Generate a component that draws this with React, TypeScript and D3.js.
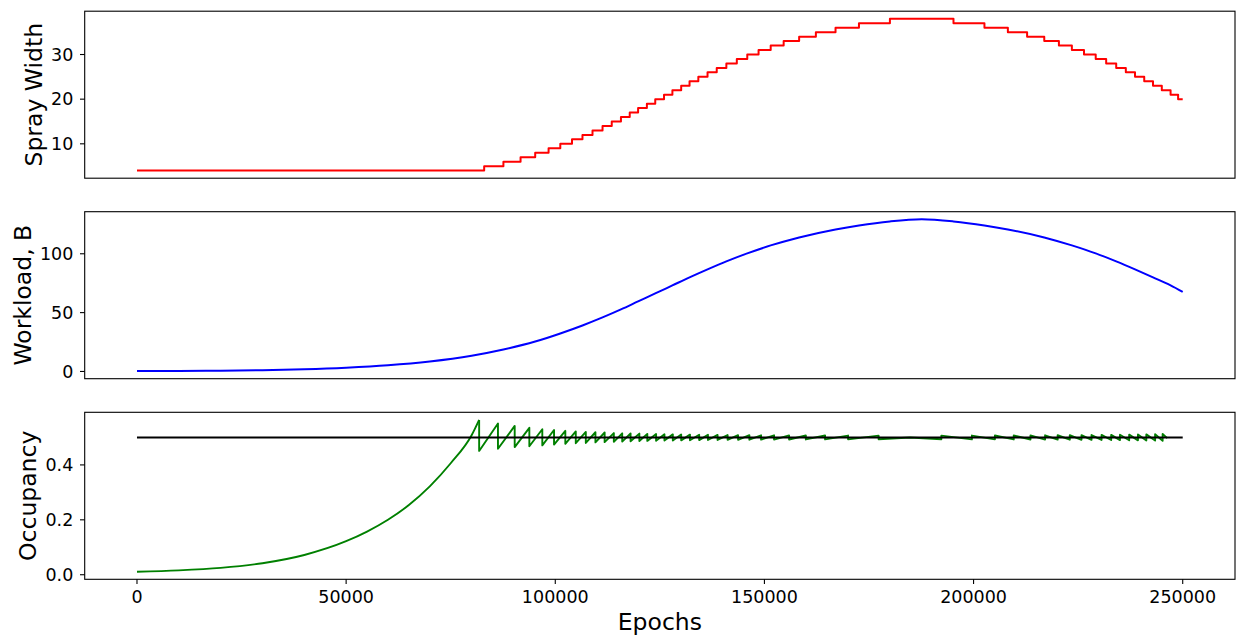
import React from 'react';
import * as d3 from 'd3';

// shared x axis
const epochTicks = [0, 50000, 100000, 150000, 200000, 250000];

// top panel: spray width (step)
const sprayEpochs = [
  0, 83000, 87600, 91700, 95200, 98400, 101200, 104000, 106500, 108900, 111300,
  113500, 115700, 117800, 119800, 121900, 123900, 126000, 128000, 130100, 132100,
  134200, 136400, 138600, 140900, 143400, 145900, 148600, 151500, 154600, 158300,
  162300, 167000, 172600, 180000,
  195200, 202600, 208200, 212800, 216900, 220400, 223500, 226400, 229200, 231700,
  234100, 236400, 238600, 240800, 242900, 245000, 247100, 248900, 250000,
];
const sprayValues = [
  4, 5, 6, 7, 8, 9, 10, 11, 12, 13, 14,
  15, 16, 17, 18, 19, 20, 21, 22, 23, 24,
  25, 26, 27, 28, 29, 30, 31, 32, 33, 34,
  35, 36, 37, 38,
  37, 36, 35, 34, 33, 32, 31, 30, 29, 28,
  27, 26, 25, 24, 23, 22, 21, 20, 20,
];
const sprayTicks = [10, 20, 30];

// middle panel: workload
const workloadEpochs = [
  0, 10000, 20000, 30000, 40000, 50000, 60000, 70000, 80000, 87600, 95200,
  101200, 106500, 111300, 115700, 119800, 123900, 128000, 132100, 136400, 140900,
  145900, 151500, 158300, 167000, 172600, 180000, 187600, 195200, 202600, 208200,
  216900, 223500, 229200, 234100, 238600, 242900, 247100, 250000,
];
const workloadValues = [
  0.3, 0.43, 0.67, 1.12, 1.9, 3.2, 5.2, 8.4, 13.3, 18.6, 25.4,
  32.3, 39.1, 45.9, 52.7, 59.5, 66.3, 73.1, 79.9, 86.7, 93.5,
  100.3, 107.1, 113.9, 120.7, 124.1, 127.5, 129.3, 127.5, 124.1, 120.7,
  113.9, 107.1, 100.3, 93.5, 86.7, 79.9, 73.1, 67.6,
];
const workloadTicks = [0, 50, 100];

// bottom panel: occupancy, smooth rise before the first width step
const occRiseEpochs = [0, 10000, 20000, 30000, 40000, 50000, 55000, 60000, 65000, 70000, 75000, 80000, 81800];
const occRiseValues = [0.011, 0.016, 0.025, 0.042, 0.072, 0.122, 0.157, 0.2, 0.254, 0.322, 0.406, 0.508, 0.564];

// occupancy sawtooth after steps start
const occSawEpochs = [
  81800, 81800, 86300, 86300, 90300, 90300, 93800, 93800, 96900, 96900,
  99700, 99700, 102400, 102400, 104900, 104900, 107300, 107300, 109600, 109600,
  111800, 111800, 114000, 114000, 116000, 116000, 118000, 118000, 120100, 120100,
  122000, 122000, 124100, 124100, 126100, 126100, 128100, 128100, 130100, 130100,
  132200, 132200, 134400, 134400, 136500, 136500, 138800, 138800, 141200, 141200,
  143700, 143700, 146400, 146400, 149200, 149200, 152300, 152300, 155900, 155900,
  159900, 159900, 164500, 164500, 170000, 170000, 177300, 177300, 184800,
  192300, 192300, 199600, 199600, 205100, 205100, 209600, 209600, 213600, 213600,
  217100, 217100, 220100, 220100, 223000, 223000, 225800, 225800, 228200, 228200,
  230600, 230600, 232900, 232900, 235000, 235000, 237200, 237200, 239300, 239300,
  241300, 241300, 243400, 243400, 245200, 245200, 246300,
];
const occSawValues = [
  0.564, 0.451, 0.551, 0.459, 0.542, 0.465, 0.535, 0.468, 0.53, 0.471,
  0.527, 0.474, 0.524, 0.477, 0.522, 0.479, 0.52, 0.48, 0.519, 0.482,
  0.518, 0.483, 0.516, 0.484, 0.515, 0.485, 0.5145, 0.486, 0.514, 0.487,
  0.513, 0.4875, 0.5124, 0.488, 0.5118, 0.4886, 0.5112, 0.4891, 0.5107, 0.4895,
  0.5103, 0.4899, 0.5099, 0.4903, 0.5095, 0.4907, 0.5092, 0.491, 0.5088, 0.4913,
  0.5085, 0.4916, 0.5083, 0.4919, 0.508, 0.4921, 0.5078, 0.4924, 0.5075, 0.4926,
  0.5073, 0.4928, 0.5071, 0.493, 0.5069, 0.4932, 0.5067, 0.4934, 0.5,
  0.4934, 0.5067, 0.4932, 0.5069, 0.493, 0.5071, 0.4928, 0.5073, 0.4926, 0.5075,
  0.4924, 0.5078, 0.4921, 0.508, 0.4919, 0.5083, 0.4916, 0.5085, 0.4913, 0.5088,
  0.491, 0.5092, 0.4907, 0.5095, 0.4903, 0.5099, 0.4899, 0.5103, 0.4895, 0.5107,
  0.4891, 0.5112, 0.4886, 0.5118, 0.488, 0.5124, 0.4975,
];
const targetEpochs = [0, 250000];
const targetValues = [0.5, 0.5];
const occTicks = [0, 0.2, 0.4];

const FONT = '"DejaVu Sans", sans-serif';
const left = 84.7;
const right = 1235;
const panelTops = [11.2, 211.7, 412.3];
const panelH = 167;

// matplotlib style 5% margins
function padded(vals: number[]): [number, number] {
  const [a, b] = d3.extent(vals) as [number, number];
  const m = (b - a) * 0.05;
  return [a - m, b + m];
}

const x = d3.scaleLinear().domain(padded([...sprayEpochs, ...workloadEpochs])).range([left, right]);

type Series = { xs: number[]; ys: number[]; color: string; width: number; curve: any };

function Panel(props: {
  idx: number;
  series: Series[];
  ticks: number[];
  fmt: (d: number) => string;
  label: string;
  labelX: number;
  showX?: boolean;
}) {
  const top = panelTops[props.idx];
  const allY = props.series.flatMap((s) => s.ys);
  const y = d3.scaleLinear().domain(padded(allY)).range([top + panelH, top]);
  const clipId = 'clip' + props.idx;
  return (
    <g>
      <defs>
        <clipPath id={clipId}>
          <rect x={left} y={top} width={right - left} height={panelH} />
        </clipPath>
      </defs>
      <g clipPath={`url(#${clipId})`}>
        {props.series.map((s, i) => {
          const line = d3
            .line<number>()
            .x((d, j) => x(s.xs[j]))
            .y((d) => y(d))
            .curve(s.curve);
          return (
            <path
              key={i}
              d={line(s.ys) || ''}
              fill="none"
              stroke={s.color}
              strokeWidth={s.width}
              strokeLinejoin="round"
            />
          );
        })}
      </g>
      <rect x={left} y={top} width={right - left} height={panelH} fill="none" stroke="#000" strokeWidth={1.1} />
      {props.ticks.map((t) => (
        <g key={t}>
          <line x1={left - 4.7} x2={left} y1={y(t)} y2={y(t)} stroke="#000" strokeWidth={1.1} />
          <text x={73.3} y={y(t)} dy="0.36em" textAnchor="end" fontSize={17.5} fontFamily={FONT} fill="#000">
            {props.fmt(t)}
          </text>
        </g>
      ))}
      <text
        transform={`translate(${props.labelX},${top + panelH / 2}) rotate(-90)`}
        textAnchor="middle"
        fontSize={23.5}
        fontFamily={FONT}
        fill="#000"
      >
        {props.label}
      </text>
      {props.showX &&
        epochTicks.map((t) => (
          <g key={t}>
            <line x1={x(t)} x2={x(t)} y1={top + panelH} y2={top + panelH + 4.7} stroke="#000" strokeWidth={1.1} />
            <text x={x(t)} y={602.7} textAnchor="middle" fontSize={17.5} fontFamily={FONT} fill="#000">
              {t}
            </text>
          </g>
        ))}
    </g>
  );
}

export default function App() {
  return (
    <div style={{ position: 'absolute', left: 0, top: 0 }}>
      <svg width={1236} height={635} style={{ display: 'block', background: '#fff' }}>
        <Panel
          idx={0}
          series={[{ xs: sprayEpochs, ys: sprayValues, color: '#ff0000', width: 2, curve: d3.curveStepAfter }]}
          ticks={sprayTicks}
          fmt={(d) => String(d)}
          label="Spray Width"
          labelX={41.7}
        />
        <Panel
          idx={1}
          series={[{ xs: workloadEpochs, ys: workloadValues, color: '#0000ff', width: 2, curve: d3.curveMonotoneX }]}
          ticks={workloadTicks}
          fmt={(d) => String(d)}
          label="Workload, B"
          labelX={30.7}
        />
        <Panel
          idx={2}
          series={[
            { xs: occRiseEpochs, ys: occRiseValues, color: '#008000', width: 1.9, curve: d3.curveMonotoneX },
            { xs: occSawEpochs, ys: occSawValues, color: '#008000', width: 1.9, curve: d3.curveLinear },
            { xs: targetEpochs, ys: targetValues, color: '#000000', width: 2, curve: d3.curveLinear },
          ]}
          ticks={occTicks}
          fmt={d3.format('.1f')}
          label="Occupancy"
          labelX={36.2}
          showX
        />
        <text x={(left + right) / 2} y={630} textAnchor="middle" fontSize={23.5} fontFamily={FONT} fill="#000">
          Epochs
        </text>
      </svg>
    </div>
  );
}
